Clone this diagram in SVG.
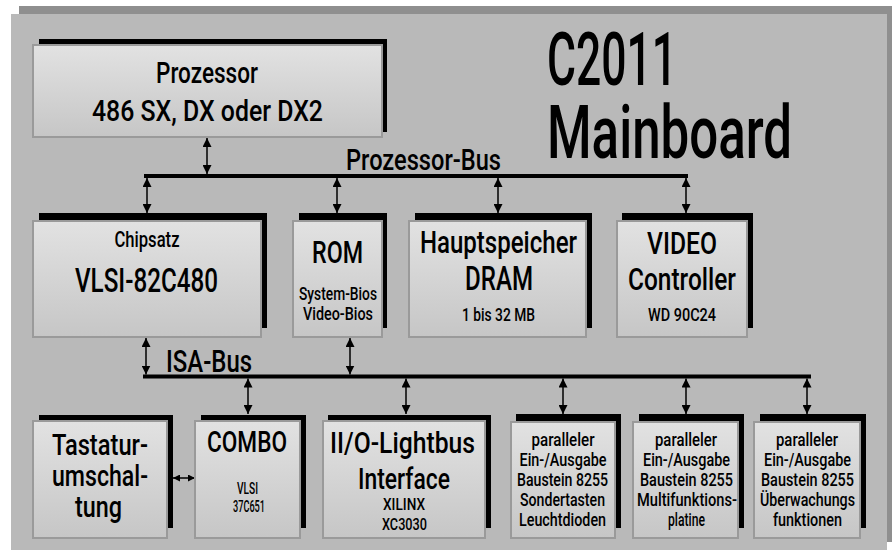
<svg xmlns="http://www.w3.org/2000/svg" width="892" height="551" viewBox="0 0 892 551">
<defs>
<linearGradient id="boxg" x1="0" y1="0" x2="0" y2="1">
<stop offset="0" stop-color="#e2e2e2"/>
<stop offset="1" stop-color="#c6c6c6"/>
</linearGradient>
<marker id="ah" viewBox="0 0 9 9" refX="9" refY="4.5" markerWidth="9" markerHeight="9" markerUnits="userSpaceOnUse" orient="auto-start-reverse">
<path d="M0,0 L9,4.5 L0,9 z" fill="#000"/>
</marker>
<marker id="ahs" viewBox="0 0 7 7" refX="7" refY="3.5" markerWidth="7" markerHeight="7" markerUnits="userSpaceOnUse" orient="auto-start-reverse">
<path d="M0,0 L7,3.5 L0,7 z" fill="#000"/>
</marker>
</defs>
<style>
.sh{fill:#000}
.bx{fill:url(#boxg);stroke:#9a9a9a;stroke-width:2}
text{font-family:Roboto,"DejaVu Sans Condensed","Liberation Sans",sans-serif;font-weight:500;fill:#000;text-anchor:middle}
.ar{stroke:#000;stroke-width:1.5;fill:none;marker-start:url(#ah);marker-end:url(#ah)}
.bus{stroke:#000;stroke-width:4;fill:none}
.l{font-size:30px}
.m{font-size:22px}
.s{font-size:18px}
</style>
<rect x="19" y="6" width="880" height="536" fill="#8f8f8f"/>
<rect x="11" y="14" width="876" height="536" fill="#b9b9b9"/>

<g id="title">
<text x="547" y="85" style="font-size:74px;text-anchor:start" textLength="130" lengthAdjust="spacingAndGlyphs">C2011</text>
<text x="547" y="158" style="font-size:74px;text-anchor:start" textLength="245" lengthAdjust="spacingAndGlyphs">Mainboard</text>
</g>

<g id="connectors">
<line class="bus" x1="144" y1="176" x2="688" y2="176"/>
<line class="bus" x1="143" y1="376.5" x2="811" y2="376.5"/>
<line class="ar" x1="207" y1="138" x2="207" y2="174"/>
<line class="ar" x1="147" y1="178" x2="147" y2="213"/>
<line class="ar" x1="337" y1="178" x2="337" y2="213"/>
<line class="ar" x1="498" y1="178" x2="498" y2="213"/>
<line class="ar" x1="686" y1="178" x2="686" y2="213"/>
<line class="ar" x1="146" y1="338" x2="146" y2="374.5"/>
<line class="ar" x1="350" y1="338" x2="350" y2="374.5"/>
<line class="ar" x1="248" y1="378.5" x2="248" y2="414"/>
<line class="ar" x1="406" y1="378.5" x2="406" y2="414"/>
<line class="ar" x1="563" y1="378.5" x2="563" y2="414"/>
<line class="ar" x1="686" y1="378.5" x2="686" y2="414"/>
<line class="ar" x1="807" y1="378.5" x2="807" y2="414"/>
<line x1="173" y1="478" x2="195" y2="478" stroke="#000" stroke-width="1.5" marker-start="url(#ahs)" marker-end="url(#ahs)"/>
<text x="423.5" y="170" class="l" textLength="155" lengthAdjust="spacingAndGlyphs">Prozessor-Bus</text>
<text x="209" y="372" style="font-size:32px" textLength="86" lengthAdjust="spacingAndGlyphs">ISA-Bus</text>
</g>

<g id="prozessor">
<rect class="sh" x="39" y="39" width="348" height="93"/>
<rect class="bx" x="33" y="45" width="349" height="92"/>
<text x="207" y="83" class="l" textLength="102" lengthAdjust="spacingAndGlyphs">Prozessor</text>
<text x="207.5" y="121" class="l" textLength="231" lengthAdjust="spacingAndGlyphs">486 SX, DX oder DX2</text>
</g>

<g id="chipsatz">
<rect class="sh" x="39" y="213" width="228" height="115"/>
<rect class="bx" x="33" y="221" width="228" height="116"/>
<text x="147" y="247" class="m" textLength="65" lengthAdjust="spacingAndGlyphs">Chipsatz</text>
<text x="146.5" y="292" style="font-size:34px" textLength="143" lengthAdjust="spacingAndGlyphs">VLSI-82C480</text>
</g>

<g id="rom">
<rect class="sh" x="299" y="213" width="88" height="115"/>
<rect class="bx" x="293" y="221" width="89" height="116"/>
<text x="337.5" y="263" style="font-size:32px" textLength="51" lengthAdjust="spacingAndGlyphs">ROM</text>
<text x="338" y="300" class="s" textLength="78" lengthAdjust="spacingAndGlyphs">System-Bios</text>
<text x="338" y="320" class="s" textLength="70" lengthAdjust="spacingAndGlyphs">Video-Bios</text>
</g>

<g id="hauptspeicher">
<rect class="sh" x="415" y="213" width="177" height="115"/>
<rect class="bx" x="409" y="221" width="177" height="116"/>
<text x="498.5" y="253" style="font-size:32px" textLength="157" lengthAdjust="spacingAndGlyphs">Hauptspeicher</text>
<text x="499" y="290" style="font-size:34px" textLength="68" lengthAdjust="spacingAndGlyphs">DRAM</text>
<text x="498.5" y="321" class="s" textLength="73" lengthAdjust="spacingAndGlyphs">1 bis 32 MB</text>
</g>

<g id="video">
<rect class="sh" x="622" y="213" width="131" height="115"/>
<rect class="bx" x="617" y="221" width="130" height="116"/>
<text x="682" y="254" style="font-size:32px" textLength="70" lengthAdjust="spacingAndGlyphs">VIDEO</text>
<text x="682" y="290" style="font-size:32px" textLength="108" lengthAdjust="spacingAndGlyphs">Controller</text>
<text x="682" y="321" class="s" textLength="68" lengthAdjust="spacingAndGlyphs">WD 90C24</text>
</g>

<g id="tastatur">
<rect class="sh" x="39" y="415" width="134" height="113"/>
<rect class="bx" x="33" y="421" width="134" height="117"/>
<text x="100" y="455" class="l" textLength="96" lengthAdjust="spacingAndGlyphs">Tastatur-</text>
<text x="100" y="486" class="l" textLength="96" lengthAdjust="spacingAndGlyphs">umschal-</text>
<text x="98.5" y="517" class="l" textLength="47" lengthAdjust="spacingAndGlyphs">tung</text>
</g>

<g id="combo">
<rect class="sh" x="201" y="415" width="105" height="113"/>
<rect class="bx" x="195" y="421" width="105" height="117"/>
<text x="247" y="452" class="l" textLength="80" lengthAdjust="spacingAndGlyphs">COMBO</text>
<text x="247.5" y="494" style="font-size:16px" textLength="21" lengthAdjust="spacingAndGlyphs">VLSI</text>
<text x="249" y="512" style="font-size:16px" textLength="32" lengthAdjust="spacingAndGlyphs">37C651</text>
</g>

<g id="lightbus">
<rect class="sh" x="328" y="415" width="163" height="113"/>
<rect class="bx" x="323" y="421" width="162" height="117"/>
<text x="402.5" y="453" class="l" textLength="145" lengthAdjust="spacingAndGlyphs">II/O-Lightbus</text>
<text x="404" y="489" class="l" textLength="92" lengthAdjust="spacingAndGlyphs">Interface</text>
<text x="404" y="510" style="font-size:17px" textLength="42" lengthAdjust="spacingAndGlyphs">XILINX</text>
<text x="404.5" y="530" style="font-size:17px" textLength="45" lengthAdjust="spacingAndGlyphs">XC3030</text>
</g>

<g id="parallel1">
<rect class="sh" x="516" y="414" width="105" height="114"/>
<rect class="bx" x="511" y="422" width="104" height="116"/>
<text x="563" y="446" class="s" textLength="63" lengthAdjust="spacingAndGlyphs">paralleler</text>
<text x="563" y="466" class="s" textLength="87" lengthAdjust="spacingAndGlyphs">Ein-/Ausgabe</text>
<text x="562.5" y="486" class="s" textLength="91" lengthAdjust="spacingAndGlyphs">Baustein 8255</text>
<text x="562.5" y="506" class="s" textLength="85" lengthAdjust="spacingAndGlyphs">Sondertasten</text>
<text x="562.5" y="526" class="s" textLength="87" lengthAdjust="spacingAndGlyphs">Leuchtdioden</text>
</g>

<g id="parallel2">
<rect class="sh" x="639" y="414" width="105" height="114"/>
<rect class="bx" x="633" y="422" width="105" height="116"/>
<text x="686" y="446" class="s" textLength="62" lengthAdjust="spacingAndGlyphs">paralleler</text>
<text x="686.5" y="466" class="s" textLength="87" lengthAdjust="spacingAndGlyphs">Ein-/Ausgabe</text>
<text x="686.5" y="486" class="s" textLength="93" lengthAdjust="spacingAndGlyphs">Baustein 8255</text>
<text x="687" y="506" class="s" textLength="100" lengthAdjust="spacingAndGlyphs">Multifunktions-</text>
<text x="686.5" y="526" class="s" textLength="37" lengthAdjust="spacingAndGlyphs">platine</text>
</g>

<g id="parallel3">
<rect class="sh" x="760" y="414" width="106" height="114"/>
<rect class="bx" x="754" y="422" width="106" height="116"/>
<text x="807" y="446" class="s" textLength="62" lengthAdjust="spacingAndGlyphs">paralleler</text>
<text x="807.5" y="466" class="s" textLength="87" lengthAdjust="spacingAndGlyphs">Ein-/Ausgabe</text>
<text x="807.5" y="486" class="s" textLength="93" lengthAdjust="spacingAndGlyphs">Baustein 8255</text>
<text x="807.5" y="506" class="s" textLength="95" lengthAdjust="spacingAndGlyphs">Überwachungs</text>
<text x="807.5" y="526" class="s" textLength="69" lengthAdjust="spacingAndGlyphs">funktionen</text>
</g>
</svg>
